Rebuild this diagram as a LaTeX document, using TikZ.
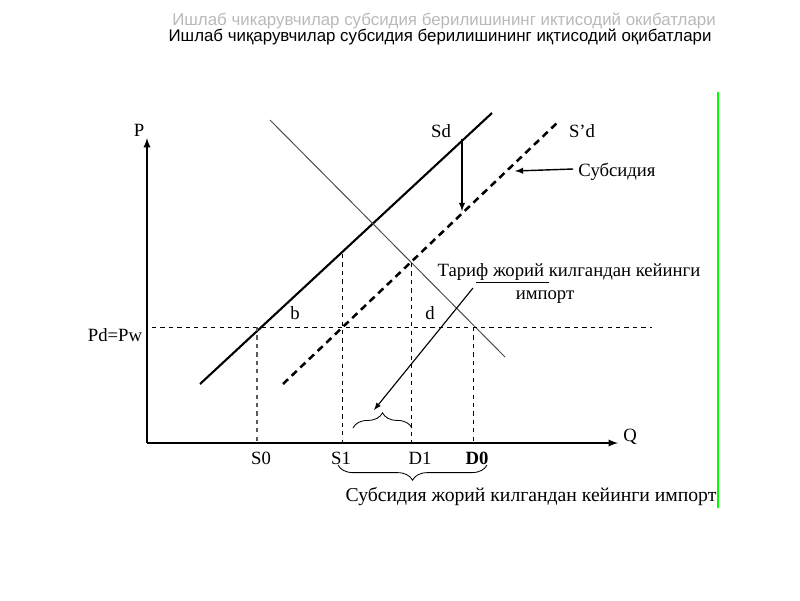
\documentclass[tikz,border=0pt]{standalone}
\usepackage{fontspec}
\setmainfont{Liberation Serif}
\newfontfamily\titlefont{Liberation Sans}
\usetikzlibrary{decorations.pathreplacing,arrows}

\tikzset{
  lbl/.style={inner sep=0pt, font=\fontsize{13.3}{15}\selectfont},
  guide/.style={dashed, line width=0.6pt},
  brc/.style={decorate, decoration={brace, amplitude=0.38cm}, line width=0.6pt},
}

\begin{document}
\begin{tikzpicture}[x=0.025cm,y=-0.025cm]
    \useasboundingbox (0,0) rectangle (800,600);

        % Titolo
        \node[inner sep=0pt, text=gray!55, font=\titlefont\fontsize{12}{14}\selectfont] (tit1) at (444,21) {Ишлаб чикарувчилар субсидия берилишининг иктисодий окибатлари};
        \node[inner sep=0pt, font=\titlefont\fontsize{12}{14}\selectfont] (tit2) at (440,37) {Ишлаб чиқарувчилар субсидия берилишининг иқтисодий оқибатлари};

        % Assi
        \coordinate (O) at (147,443);
        \coordinate (Ptop) at (147,138);
        \coordinate (Qend) at (618,443);
        \draw[-latex, line width=1.3pt] (O) -- (Ptop);
        \draw[-latex, line width=1.3pt] (O) -- (Qend);
        \node[lbl] (P) at (139,130) {P};
        \node[lbl] (Q) at (630,437) {Q};

        % Curve
        \coordinate (Sd0) at (200,384);
        \coordinate (Sd1) at (492,113);
        \coordinate (Sp0) at (283,384);
        \coordinate (Sp1) at (558,122);
        \coordinate (Dm0) at (270,120);
        \coordinate (Dm1) at (505,357);
        \draw[line width=1.5pt] (Sd0) -- (Sd1);
        \draw[line width=1.8pt, dash pattern=on 5pt off 3.5pt] (Sp0) -- (Sp1);
        \draw[gray!60!black, line width=0.7pt] (Dm0) -- (Dm1);
        \node[lbl] (Sd) at (441,131) {Sd};
        \node[lbl] (Spd) at (582,131) {S’d};

        % Prezzo mondiale
        \coordinate (Pw0) at (152,327);
        \coordinate (Pw1) at (652,327);
        \draw[guide] (Pw0) -- (Pw1);
        \node[lbl] (Pw) at (115,335) {Pd=Pw};
        \node[lbl] (b) at (295,313) {b};
        \node[lbl] (d) at (430,313) {d};

        % Verticali
        \coordinate (S0t) at (257,327);
        \coordinate (S0b) at (257,443);
        \coordinate (S1t) at (342,254);
        \coordinate (S1b) at (342,443);
        \coordinate (D1t) at (411,263);
        \coordinate (D1b) at (411,443);
        \coordinate (D0t) at (473,327);
        \coordinate (D0b) at (473,443);
        \draw[guide, gray!70!black, line width=1pt] (S0t) -- (S0b);
        \draw[guide] (S1t) -- (S1b);
        \draw[guide] (D1t) -- (D1b);
        \draw[guide] (D0t) -- (D0b);
        \node[lbl] (S0) at (261,458) {S0};
        \node[lbl] (S1) at (341,458) {S1};
        \node[lbl] (D1) at (420,458) {D1};
        \node[lbl] (D0) at (477,458) {\textbf{D0}};

        % Frecce
        \coordinate (a1) at (462,139);
        \coordinate (a2) at (462,211);
        \draw[-latex, line width=1pt] (a1) -- (a2);
        \node[lbl] (sub) at (617,172) {Субсидия};
        \draw[-latex, line width=1pt] (sub.west) ++(-5,-3) coordinate (a3) -- (515,171) coordinate (a4);
        \node[lbl] (tar) at (569,273) {Тари\underline{ф жорий }килгандан кейинги};
        \node[lbl] (imp) at (545,297) {импорт};
        \coordinate (t1) at (473,288);
        \coordinate (t2) at (374,410);
        \draw[-latex, line width=0.8pt] (t1) -- (t2);

        % Parentesi
        \coordinate (br1) at (353,428);
        \coordinate (br2) at (412,428);
        \coordinate (br3) at (487,465);
        \coordinate (br4) at (338,465);
        \draw[brc] (br1) -- (br2);
        \draw[brc] (br3) -- (br4);
        \node[lbl, font=\fontsize{14}{16}\selectfont] (imp2) at (531,497) {Субсидия жорий килгандан кейинги импорт};

        % Bordo
        \coordinate (g1) at (718,92);
        \coordinate (g2) at (718,508);
        \draw[green, line width=1.5pt] (g1) -- (g2);

    \end{tikzpicture}
\end{document}
